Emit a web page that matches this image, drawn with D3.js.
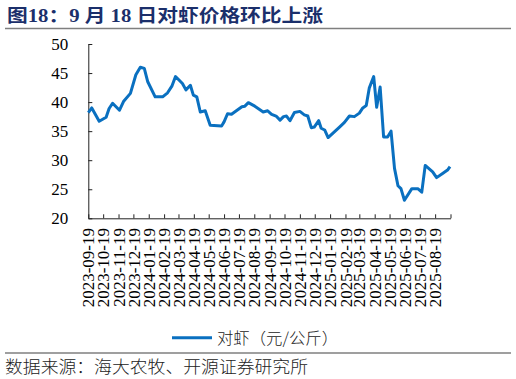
<!DOCTYPE html>
<html><head><meta charset="utf-8">
<script src="https://cdn.jsdelivr.net/npm/d3@7"></script>
<style>html,body{margin:0;padding:0;background:#fff;}svg{display:block;}</style>
</head><body>
<svg id="c" width="516" height="379"></svg>
<script>
const titleText = "图18：9 月 18 日对虾价格环比上涨";
const seriesName = "对虾（元/公斤）";
const sourceText = "数据来源：海大农牧、开源证券研究所";
const yTicks = [20, 25, 30, 35, 40, 45, 50];
const xTickLabels = ["2023-09-19","2023-10-19","2023-11-19","2023-12-19","2024-01-19","2024-02-19","2024-03-19","2024-04-19","2024-05-19","2024-06-19","2024-07-19","2024-08-19","2024-09-19","2024-10-19","2024-11-19","2024-12-19","2025-01-19","2025-02-19","2025-03-19","2025-04-19","2025-05-19","2025-06-19","2025-07-19","2025-08-19"];
const dates = ["2023-09-19","2023-09-26","2023-10-11","2023-10-25","2023-10-31","2023-11-07","2023-11-21","2023-11-29","2023-12-13","2023-12-24","2024-01-02","2024-01-10","2024-01-17","2024-02-01","2024-02-16","2024-02-26","2024-03-06","2024-03-13","2024-03-27","2024-04-03","2024-04-12","2024-04-18","2024-04-25","2024-05-02","2024-05-12","2024-05-22","2024-06-14","2024-06-19","2024-06-26","2024-07-04","2024-07-25","2024-07-31","2024-08-07","2024-08-20","2024-09-06","2024-09-15","2024-09-23","2024-10-02","2024-10-10","2024-10-17","2024-10-23","2024-10-30","2024-11-08","2024-11-19","2024-11-28","2024-12-05","2024-12-12","2024-12-18","2024-12-27","2025-01-01","2025-01-08","2025-01-15","2025-02-07","2025-02-17","2025-02-27","2025-03-09","2025-03-19","2025-03-26","2025-04-02","2025-04-08","2025-04-17","2025-04-23","2025-04-30","2025-05-07","2025-05-15","2025-05-22","2025-05-29","2025-06-05","2025-06-11","2025-06-18","2025-07-03","2025-07-15","2025-07-23","2025-07-30","2025-08-14","2025-08-22","2025-09-03","2025-09-13","2025-09-18"];
const prices = [38.2,39.0,36.7,37.4,38.9,39.8,38.6,40.1,41.5,44.7,46.0,45.8,43.5,40.9,40.9,41.6,42.8,44.4,43.2,42.1,42.9,41.2,40.9,38.3,38.5,36.0,35.9,36.6,38.0,37.9,39.2,39.3,39.9,39.3,38.3,38.5,37.9,37.6,36.9,37.5,37.6,36.8,38.2,38.4,37.8,37.6,35.6,35.7,36.8,35.5,35.2,33.9,35.7,36.5,37.6,37.5,38.1,39.0,39.4,42.4,44.4,39.1,42.6,34.0,34.0,35.0,28.6,25.6,25.1,23.1,25.1,25.1,24.5,29.1,28.0,27.0,27.7,28.3,28.9];

const parse = d3.timeParse("%Y-%m-%d");
const data = dates.map((d, i) => ({ date: parse(d), v: prices[i] }));

const svg = d3.select("#c");
const serif = "'Liberation Serif','Times New Roman',serif";
const cjk = "'Noto Sans CJK SC','Noto Sans CJK JP',sans-serif";
const blue = "#0a70c0";

const x = d3.scaleTime().domain([parse("2023-09-19"), parse("2025-09-19")]).range([88.3, 450.5]);
const y = d3.scaleLinear().domain([20, 50]).range([218.3, 44]);

// title
svg.append("text").attr("x", 7).attr("y", 21.5)
  .attr("font-family", "'Liberation Serif','Noto Sans CJK SC',serif")
  .attr("font-weight", "bold").attr("font-size", 18).attr("fill", "#1b2f6b")
  .attr("textLength", 316).attr("lengthAdjust", "spacingAndGlyphs")
  .text(titleText);
svg.append("line").attr("x1", 5).attr("x2", 511).attr("y1", 28.5).attr("y2", 28.5)
  .attr("stroke", "#7f7f7f").attr("stroke-width", 1.5);

// y axis
const yAxis = d3.axisLeft(y).tickValues(yTicks).tickSize(-4).tickPadding(20).tickSizeOuter(0);
const gy = svg.append("g").attr("transform", "translate(88.3,0)").call(yAxis);
gy.selectAll("text").attr("font-family", serif).attr("font-size", 17).attr("fill", "#000");
gy.selectAll("line,path").attr("stroke", "#222");

// x axis
const xTicks = xTickLabels.map(parse).concat([parse("2025-09-19")]);
const xAxis = d3.axisBottom(x).tickValues(xTicks).tickSize(-4).tickSizeOuter(0)
  .tickFormat(d => { const s = d3.timeFormat("%Y-%m-%d")(d); return xTickLabels.includes(s) ? s : ""; });
const gx = svg.append("g").attr("transform", "translate(0,218.3)").call(xAxis);
gx.selectAll("line,path").attr("stroke", "#222");
gx.selectAll("text").attr("font-family", serif).attr("font-size", 17).attr("fill", "#000")
  .attr("text-anchor", "end").attr("transform", "rotate(-90)")
  .attr("x", -9.7).attr("y", 0).attr("dy", "0.33em");

// line
const line = d3.line().x(d => x(d.date)).y(d => y(d.v));
svg.append("path").datum(data).attr("d", line).attr("fill", "none")
  .attr("stroke", blue).attr("stroke-width", 3).attr("stroke-linejoin", "round");

// legend
svg.append("line").attr("x1", 172).attr("x2", 212).attr("y1", 337.7).attr("y2", 337.7)
  .attr("stroke", blue).attr("stroke-width", 3);
svg.append("text").attr("x", 217).attr("y", 343.5).attr("font-family", cjk)
  .attr("font-size", 16).attr("fill", "#222").attr("font-weight", 300)
  .attr("textLength", 121).attr("lengthAdjust", "spacingAndGlyphs").text(seriesName);

// footer
svg.append("line").attr("x1", 5).attr("x2", 511).attr("y1", 353).attr("y2", 353)
  .attr("stroke", "#7f7f7f").attr("stroke-width", 1.5);
svg.append("text").attr("x", 5).attr("y", 372.5).attr("font-family", cjk)
  .attr("font-size", 17).attr("fill", "#222").attr("font-weight", 300)
  .attr("textLength", 303).attr("lengthAdjust", "spacingAndGlyphs").text(sourceText);
</script>
</body></html>
